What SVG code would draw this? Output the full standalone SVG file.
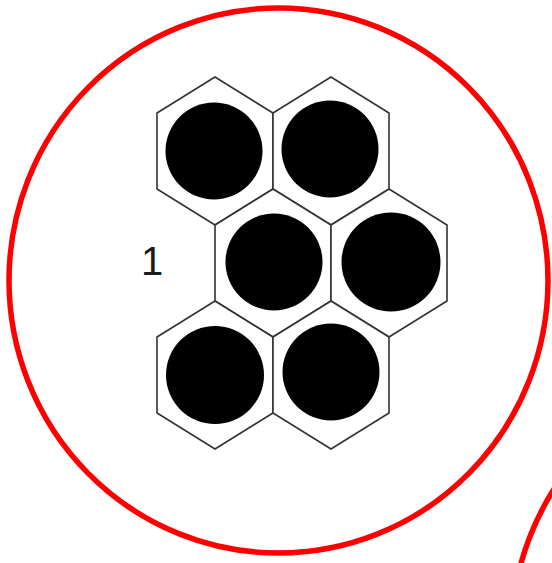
<svg xmlns="http://www.w3.org/2000/svg" width="552" height="563" viewBox="0 0 552 563">
<defs>
<style>
.ring{fill:none;stroke:#ff0000;stroke-width:5.5}
.hex{fill:#ffffff;stroke:#333333;stroke-width:1.6;stroke-linejoin:miter}
.dot{fill:#000000}
.lbl{font-family:"Liberation Sans",Arial,sans-serif;font-size:40px;fill:#1a1a1a}
</style>
<polygon id="hexshape" class="hex" points="0,-74 58,-38 58,38 0,74 -58,38 -58,-38"/>
</defs>
<rect width="552" height="563" fill="#ffffff"/>
<g id="rings">
<ellipse class="ring" cx="278.5" cy="280.5" rx="269.5" ry="272.5"/>
<ellipse class="ring" cx="781" cy="637" rx="270" ry="273"/>
</g>
<g id="cell-1"><use href="#hexshape" x="215" y="151"/><circle class="dot" cx="214" cy="151" r="48.5"/></g>
<g id="cell-2"><use href="#hexshape" x="331" y="151"/><circle class="dot" cx="330" cy="149" r="48.5"/></g>
<g id="cell-3"><use href="#hexshape" x="273" y="263"/><circle class="dot" cx="274" cy="262" r="48.5"/></g>
<g id="cell-4"><use href="#hexshape" x="389" y="263"/><circle class="dot" cx="391" cy="262" r="49.5"/></g>
<g id="cell-5"><use href="#hexshape" x="215" y="375"/><circle class="dot" cx="215" cy="375" r="49"/></g>
<g id="cell-6"><use href="#hexshape" x="331" y="375"/><circle class="dot" cx="331" cy="372" r="48.5"/></g>
<g id="label"><text class="lbl" x="141" y="275">1</text></g>
</svg>
